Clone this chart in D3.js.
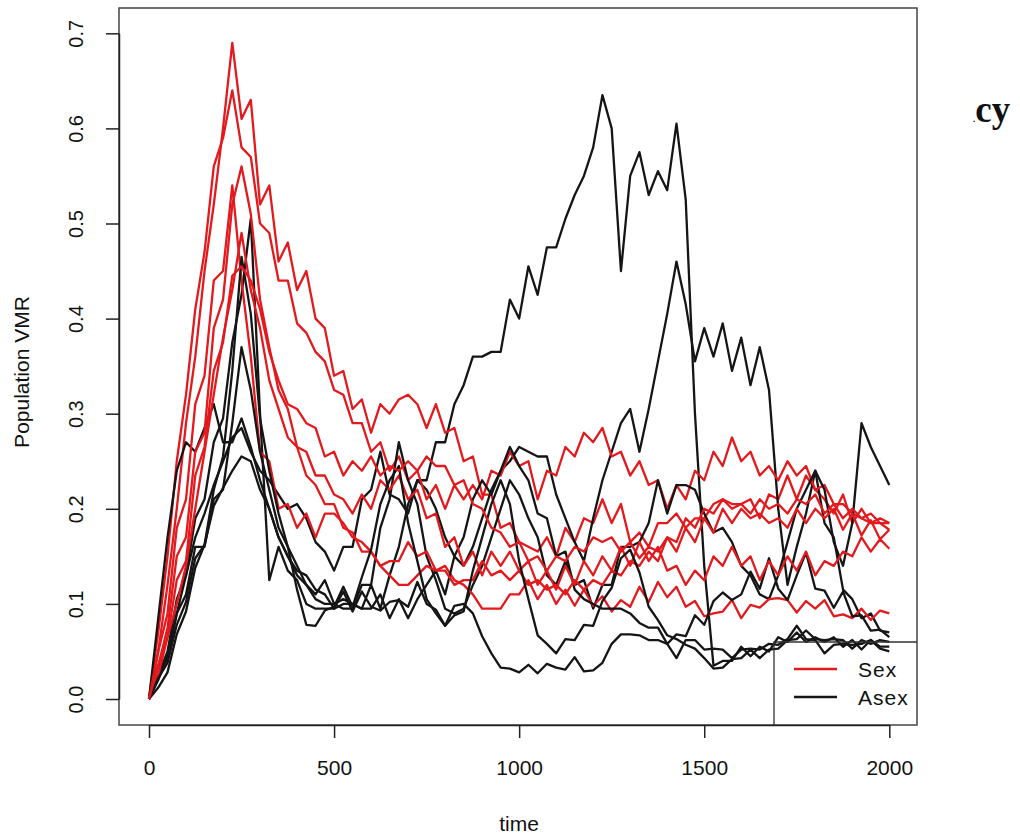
<!DOCTYPE html>
<meta charset="utf-8">
<html>
<head>
<script src="https://cdn.jsdelivr.net/npm/d3@7/dist/d3.min.js"></script>
<style>
body { margin: 0; background: #fff; }
text { font-family: "Liberation Sans", Arial, sans-serif; fill: #111; }
</style>
</head>
<body>
<script>
// time grid (every 25 generations)
var time = d3.range(0, 2001, 25);

// Sex runs (red)
var sex1 = [0, .05, .12, .2, .29, .36, .45, .52, .6, .69,
  .61, .63, .52, .54, .46, .48, .43, .45, .4, .39,
  .34, .345, .305, .315, .28, .31, .3, .315, .32, .31,
  .285, .31, .28, .285, .25, .255, .215, .215, .18, .185,
  .165, .16, .155, .17, .15, .18, .165, .19, .185, .21,
  .185, .205, .165, .175, .16, .185, .185, .195, .18, .19,
  .19, .205, .21, .205, .205, .21, .19, .215, .21, .235,
  .21, .235, .22, .21, .195, .215, .185, .2, .185, .19, .185];
var sex2 = [0, .07, .15, .25, .32, .41, .47, .56, .59, .64,
  .58, .57, .5, .49, .44, .44, .395, .385, .365, .355,
  .325, .32, .29, .29, .26, .27, .24, .255, .23, .24,
  .21, .225, .2, .225, .21, .225, .21, .24, .235, .26,
  .245, .25, .21, .24, .235, .265, .255, .28, .27, .285,
  .255, .26, .235, .25, .225, .23, .2, .225, .21, .24,
  .23, .26, .245, .275, .25, .26, .235, .245, .23, .25,
  .235, .245, .22, .225, .205, .205, .195, .19, .185, .185, .178];
var sex3 = [0, .05, .09, .18, .21, .31, .34, .44, .45, .54,
  .44, .36, .26, .25, .2, .205, .18, .195, .17, .195,
  .195, .185, .17, .165, .155, .14, .13, .12, .12, .13,
  .14, .135, .14, .125, .12, .11, .095, .095, .095, .11,
  .11, .125, .105, .12, .1, .115, .098, .115, .098, .108,
  .092, .104, .097, .118, .102, .123, .107, .118, .097, .103,
  .087, .09, .092, .104, .085, .099, .096, .105, .106, .104,
  .091, .103, .095, .104, .087, .089, .085, .095, .083, .093, .09];
var sex4 = [0, .035, .075, .15, .17, .26, .28, .39, .42, .52,
  .56, .51, .42, .37, .325, .305, .265, .26, .235, .235,
  .215, .21, .195, .215, .2, .23, .22, .235, .21, .22,
  .19, .195, .16, .17, .14, .155, .13, .155, .14, .155,
  .135, .145, .12, .135, .115, .14, .12, .145, .13, .15,
  .135, .16, .14, .165, .145, .16, .135, .14, .12, .135,
  .125, .15, .14, .16, .14, .15, .125, .145, .13, .15,
  .135, .155, .13, .145, .14, .155, .15, .17, .155, .168, .158];
var sex5 = [0, .025, .065, .1, .14, .2, .26, .32, .38, .43,
  .49, .43, .39, .335, .305, .275, .265, .235, .225, .205,
  .205, .18, .175, .155, .155, .14, .145, .145, .165, .15,
  .155, .135, .135, .12, .125, .125, .145, .13, .135, .125,
  .135, .12, .125, .115, .12, .11, .125, .115, .125, .12,
  .135, .13, .145, .14, .155, .145, .17, .155, .18, .165,
  .19, .175, .2, .185, .2, .19, .195, .185, .19, .18,
  .2, .185, .2, .19, .2, .178, .195, .172, .188, .168, .178];
var sex6 = [0, .035, .065, .125, .145, .235, .265, .345, .375, .445,
  .455, .44, .41, .365, .335, .31, .305, .29, .285, .255,
  .26, .235, .25, .24, .255, .235, .245, .24, .25, .24,
  .255, .245, .245, .225, .23, .205, .2, .18, .175, .16,
  .165, .145, .15, .135, .15, .145, .16, .155, .17, .165,
  .17, .155, .165, .148, .16, .155, .17, .165, .19, .18,
  .2, .195, .21, .2, .205, .195, .21, .2, .205, .195,
  .21, .205, .215, .195, .205, .19, .2, .19, .195, .185, .185];

// Asex runs (black)
var asex1 = [0, .02, .045, .09, .13, .17, .195, .225, .25, .275,
  .285, .26, .24, .23, .215, .2, .205, .19, .165, .155,
  .135, .16, .16, .21, .22, .26, .215, .21, .195, .23,
  .23, .27, .27, .31, .33, .36, .36, .365, .365, .42,
  .4, .455, .425, .475, .475, .505, .53, .55, .58, .635,
  .6, .45, .55, .575, .53, .555, .535, .605, .525, .3,
  .14, .035, .04, .04, .055, .045, .055, .05, .065, .06,
  .07, .06, .065, .06, .065, .055, .062, .052, .062, .055, .055];
var asex2 = [0, .025, .05, .105, .13, .19, .21, .27, .295, .375,
  .425, .505, .3, .125, .16, .135, .125, .1, .095, .095,
  .095, .1, .1, .095, .12, .095, .13, .16, .205, .23,
  .22, .2, .17, .15, .14, .16, .19, .22, .24, .25,
  .265, .26, .255, .255, .215, .19, .165, .145, .19, .23,
  .26, .29, .305, .26, .305, .355, .405, .46, .415, .355,
  .39, .36, .395, .345, .38, .33, .37, .325, .2, .12,
  .16, .195, .24, .185, .17, .115, .105, .085, .09, .072, .07];
var asex3 = [0, .085, .17, .24, .27, .26, .285, .31, .27, .27,
  .295, .265, .23, .2, .17, .15, .13, .12, .105, .1,
  .1, .095, .095, .12, .12, .18, .21, .27, .23, .205,
  .15, .125, .095, .09, .095, .12, .14, .17, .2, .23,
  .215, .19, .17, .13, .12, .145, .12, .125, .095, .12,
  .12, .16, .16, .165, .185, .23, .195, .225, .225, .22,
  .195, .175, .18, .165, .14, .13, .11, .105, .13, .165,
  .2, .22, .24, .22, .165, .14, .185, .29, .265, .245, .225];
var asex4 = [0, .035, .04, .09, .11, .16, .16, .21, .22, .29,
  .37, .325, .26, .22, .18, .16, .14, .12, .11, .125,
  .1, .105, .1, .095, .095, .11, .085, .105, .085, .105,
  .12, .135, .11, .15, .17, .21, .23, .215, .24, .265,
  .245, .23, .195, .19, .15, .155, .115, .105, .1, .095,
  .095, .095, .09, .08, .075, .075, .058, .068, .066, .088,
  .078, .103, .112, .104, .11, .134, .116, .148, .116, .104,
  .13, .154, .116, .114, .096, .113, .087, .088, .072, .073, .065];
var asex5 = [0, .012, .028, .068, .092, .138, .162, .203, .222, .24,
  .255, .25, .22, .2, .17, .15, .135, .13, .115, .11,
  .095, .113, .092, .113, .097, .093, .102, .104, .097, .123,
  .1, .094, .077, .098, .1, .09, .066, .048, .033, .032,
  .028, .036, .027, .037, .033, .031, .044, .029, .03, .038,
  .058, .068, .068, .067, .062, .062, .058, .043, .062, .062,
  .052, .053, .052, .043, .052, .053, .052, .058, .057, .063,
  .077, .063, .062, .048, .057, .058, .057, .058, .062, .053, .05];
var asex6 = [0, .022, .038, .078, .102, .148, .162, .22, .255, .345,
  .465, .405, .295, .24, .195, .16, .115, .078, .077, .093,
  .097, .118, .097, .128, .157, .205, .23, .245, .185, .145,
  .105, .09, .077, .088, .092, .135, .17, .205, .23, .205,
  .145, .105, .067, .058, .048, .063, .062, .078, .077, .103,
  .117, .148, .157, .133, .097, .083, .067, .063, .057, .053,
  .043, .032, .033, .042, .043, .052, .043, .052, .053, .062,
  .063, .072, .063, .062, .063, .062, .053, .062, .058, .062, .06];

var sexRuns = [sex1, sex2, sex3, sex4, sex5, sex6];
var asexRuns = [asex1, asex2, asex3, asex4, asex5, asex6];

var xTicks = [0, 500, 1000, 1500, 2000];
var yTicks = [0, 0.1, 0.2, 0.3, 0.4, 0.5, 0.6, 0.7];
var legendLabels = ["Sex", "Asex"];
var RED = "#e3191d", BLACK = "#151515";

var svg = d3.select("body").append("svg")
  .attr("width", 1020)
  .attr("height", 835);

var x = d3.scaleLinear().domain([0, 2000]).range([149, 889.3]);
var y = d3.scaleLinear().domain([0, 0.7]).range([699, 33.3]);

var line = d3.line()
  .x(function(d, i) { return x(time[i]); })
  .y(function(d) { return y(d); });

// runs, interleaved the way they were plotted
var runs = [];
for (var i = 0; i < 6; i++) {
  runs.push({ v: asexRuns[i], c: BLACK });
  runs.push({ v: sexRuns[i], c: RED });
}
svg.append("g").selectAll("path")
  .data(runs)
  .enter().append("path")
  .attr("d", function(d) { return line(d.v); })
  .attr("fill", "none")
  .attr("stroke", function(d) { return d.c; })
  .attr("stroke-width", 2.3)
  .attr("stroke-linejoin", "round");

// plot box
svg.append("rect")
  .attr("x", 119).attr("y", 8)
  .attr("width", 798).attr("height", 717)
  .attr("fill", "none")
  .attr("stroke", "#444")
  .attr("stroke-width", 1.5);

// x axis
var xAxis = svg.append("g")
  .attr("transform", "translate(0,725)")
  .call(d3.axisBottom(x).tickValues(xTicks).tickSize(13).tickSizeOuter(0).tickFormat(d3.format("d")));
xAxis.selectAll("line").attr("stroke", "#222").attr("stroke-width", 1.5);
xAxis.select(".domain").attr("stroke", "#222").attr("stroke-width", 1.5);
xAxis.selectAll("text")
  .attr("y", 35)
  .style("font-size", "21px")
  .style("font-family", "Liberation Sans, Arial, sans-serif")
  .attr("fill", "#111");

// y axis, R style rotated labels
var yAxis = svg.append("g")
  .attr("transform", "translate(119,0)")
  .call(d3.axisLeft(y).tickValues(yTicks).tickSize(13).tickSizeOuter(0).tickFormat(d3.format(".1f")));
yAxis.selectAll("line").attr("stroke", "#222").attr("stroke-width", 1.5);
yAxis.select(".domain").attr("stroke", "#222").attr("stroke-width", 1.5);
yAxis.selectAll("text")
  .attr("x", null).attr("dy", null)
  .attr("text-anchor", "middle")
  .attr("transform", "translate(-36,0) rotate(-90)")
  .style("font-size", "20px")
  .style("font-family", "Liberation Sans, Arial, sans-serif")
  .attr("fill", "#111");

// axis titles
svg.append("text")
  .attr("x", 519).attr("y", 831)
  .attr("text-anchor", "middle")
  .style("font-size", "21px")
  .text("time");

svg.append("text")
  .attr("transform", "translate(29,372) rotate(-90)")
  .attr("text-anchor", "middle")
  .style("font-size", "21px")
  .text("Population VMR");

// legend
var lg = svg.append("g");
lg.append("path")
  .attr("d", "M774,725V642H917")
  .attr("fill", "none")
  .attr("stroke", "#333")
  .attr("stroke-width", 1.3);
lg.selectAll("line.key")
  .data(legendLabels)
  .enter().append("line")
  .attr("class", "key")
  .attr("x1", 794).attr("x2", 837)
  .attr("y1", function(d, i) { return 669 + i * 28; })
  .attr("y2", function(d, i) { return 669 + i * 28; })
  .attr("stroke", function(d, i) { return i == 0 ? RED : BLACK; })
  .attr("stroke-width", 2.5);
lg.selectAll("text")
  .data(legendLabels)
  .enter().append("text")
  .attr("x", 858)
  .attr("y", function(d, i) { return 677 + i * 28; })
  .style("font-size", "21px")
  .style("letter-spacing", "1px")
  .text(function(d) { return d; });

// stray scanned fragment to the right of the figure
var frag = svg.append("text")
  .attr("x", 973).attr("y", 122)
  .style("font-family", "Liberation Serif, serif")
  .style("font-weight", "bold");
frag.append("tspan").style("font-size", "9px").text(".");
frag.append("tspan").style("font-size", "37px").text("cy");
</script>
</body>
</html>
